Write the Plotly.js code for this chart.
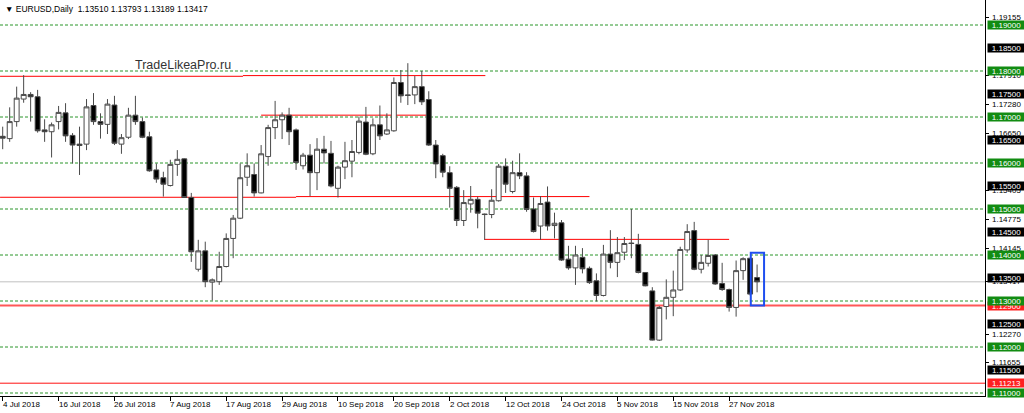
<!DOCTYPE html>
<html>
<head>
<meta charset="utf-8">
<script src="https://cdn.plot.ly/plotly-3.0.1.min.js"></script>
<style>html,body{margin:0;padding:0;background:#fff;}#chart{width:1024px;height:413px;}</style>
</head>
<body>
<div id="chart"></div>
<script>
// ---- Data ----
const opens  = [1.1658,1.1653,1.1690,1.1739,1.1749,1.1744,1.1672,1.1668,1.1690,1.1709,1.1660,1.1641,1.1641,1.1725,1.1690,1.1684,1.1726,1.1641,1.1656,1.1704,1.1690,1.1657,1.1585,1.1568,1.1551,1.1597,1.1609,1.1525,1.1369,1.1409,1.1341,1.1342,1.1375,1.1436,1.1480,1.1569,1.1575,1.1535,1.1614,1.1677,1.1694,1.1704,1.1672,1.1594,1.1617,1.1579,1.1630,1.1621,1.1545,1.1591,1.1604,1.1623,1.1689,1.1620,1.1683,1.1663,1.1670,1.1775,1.1748,1.1748,1.1766,1.1738,1.1639,1.1616,1.1579,1.1547,1.1475,1.1511,1.1521,1.1489,1.1488,1.1518,1.1593,1.1538,1.1579,1.1572,1.1500,1.1463,1.1515,1.1464,1.1470,1.1391,1.1372,1.1395,1.1371,1.1344,1.1312,1.1402,1.1384,1.1406,1.1426,1.1423,1.1362,1.1322,1.1215,1.1288,1.1308,1.1324,1.1411,1.1453,1.1369,1.1382,1.1400,1.1338,1.1325,1.1286,1.1366,1.1393,1.13510];
const highs  = [1.1679,1.1721,1.1766,1.1791,1.1754,1.1759,1.1695,1.1688,1.1724,1.1730,1.1665,1.1679,1.1739,1.1752,1.1708,1.1739,1.1746,1.1663,1.1720,1.1746,1.1699,1.1668,1.1599,1.1581,1.1607,1.1628,1.1610,1.1535,1.1433,1.1429,1.1349,1.1407,1.1447,1.1487,1.1599,1.1621,1.1599,1.1639,1.1683,1.1735,1.1710,1.1720,1.1675,1.1622,1.1641,1.1654,1.1659,1.1648,1.1594,1.1646,1.1650,1.1701,1.1722,1.1697,1.1725,1.1708,1.1786,1.1802,1.1817,1.1789,1.1800,1.1756,1.1650,1.1620,1.1593,1.1550,1.1541,1.1550,1.1527,1.1490,1.1543,1.1598,1.1610,1.1605,1.1621,1.1580,1.1525,1.1528,1.1549,1.1492,1.1476,1.1420,1.1420,1.1415,1.1375,1.1360,1.1422,1.1454,1.1439,1.1439,1.1500,1.1446,1.1363,1.1330,1.1289,1.1347,1.1366,1.1418,1.1467,1.1472,1.1400,1.1433,1.1402,1.1383,1.1327,1.1388,1.1395,1.1394,1.13793];
const lows   = [1.1630,1.1646,1.1679,1.1731,1.1690,1.1666,1.1646,1.1612,1.1673,1.1646,1.1599,1.1574,1.1628,1.1683,1.1653,1.1663,1.1639,1.1620,1.1652,1.1683,1.1654,1.1581,1.1557,1.1527,1.1549,1.1572,1.1524,1.1385,1.1364,1.1330,1.1301,1.1335,1.1373,1.1393,1.1478,1.1550,1.1527,1.1534,1.1594,1.1652,1.1652,1.1639,1.1585,1.1586,1.1528,1.1541,1.1599,1.1547,1.1525,1.1565,1.1569,1.1619,1.1617,1.1617,1.1650,1.1661,1.1668,1.1731,1.1726,1.1728,1.1726,1.1637,1.1567,1.1569,1.1503,1.1463,1.1463,1.1492,1.1458,1.1433,1.1480,1.1516,1.1535,1.1534,1.1565,1.1494,1.1449,1.1433,1.1453,1.1436,1.1387,1.1368,1.1335,1.1360,1.1337,1.1299,1.1310,1.1371,1.1352,1.1389,1.1393,1.1360,1.1332,1.1214,1.1213,1.1260,1.1267,1.1322,1.1405,1.1367,1.1360,1.1375,1.1335,1.1322,1.1277,1.1266,1.1346,1.1312,1.13189];
const closes = [1.1654,1.1690,1.1741,1.1749,1.1744,1.1670,1.1668,1.1683,1.1710,1.1659,1.1639,1.1638,1.1722,1.1690,1.1684,1.1728,1.1643,1.1655,1.1704,1.1690,1.1656,1.1583,1.1565,1.1554,1.1597,1.1608,1.1525,1.1407,1.1409,1.1342,1.1346,1.1375,1.1436,1.1480,1.1568,1.1594,1.1535,1.1620,1.1677,1.1694,1.1704,1.1668,1.1601,1.1617,1.1579,1.1630,1.1622,1.1550,1.1591,1.1605,1.1625,1.1691,1.1619,1.1683,1.1659,1.1672,1.1775,1.1746,1.1747,1.1766,1.1733,1.1639,1.1598,1.1580,1.1545,1.1475,1.1514,1.1521,1.1491,1.1488,1.1519,1.1593,1.1554,1.1579,1.1572,1.1499,1.1451,1.1512,1.1463,1.1469,1.1389,1.1372,1.1400,1.1370,1.1340,1.1312,1.1402,1.1384,1.1405,1.1425,1.1425,1.1362,1.1333,1.1215,1.1286,1.1308,1.1324,1.1412,1.1451,1.1369,1.1384,1.1399,1.1337,1.1325,1.1286,1.1366,1.1392,1.1315,1.13417];

const tickBars   = [0,8,16,24,32,40,48,56,64,72,80,88,96,104];
const tickLabels = ['4 Jul 2018','16 Jul 2018','26 Jul 2018','7 Aug 2018','17 Aug 2018','29 Aug 2018','10 Sep 2018','20 Sep 2018','2 Oct 2018','12 Oct 2018','24 Oct 2018','5 Nov 2018','15 Nov 2018','27 Nov 2018'];

const gridLevels   = [1.19,1.18,1.17,1.16,1.15,1.14,1.13,1.12,1.11];
const greenLabels  = ['1.19000','1.18000','1.17000','1.16000','1.15000','1.14000','1.13000','1.12000','1.11000'];
const blackLevels  = [1.185,1.175,1.165,1.155,1.145,1.135,1.125,1.115];
const blackLabels  = ['1.18500','1.17500','1.16500','1.15500','1.14500','1.13500','1.12500','1.11500'];
const plainLevels  = [1.19155,1.17910,1.17280,1.16650,1.15405,1.14775,1.14145,1.13417,1.12270,1.11655];
const plainLabels  = ['1.19155','1.17910','1.17280','1.16650','1.15405','1.14775','1.14145','1.13417','1.12270','1.11655'];
const redLabelLevels = [1.12900,1.11213];
const redLabelTexts  = ['1.12900','1.11213'];

// red support / resistance segments (level, start bar, end bar)
const redLevels = [1.17885,1.1790,1.1704,1.15255,1.1527,1.1434];
const redStart  = [-0.38,34.4,37.0,-0.38,42.0,68.95];
const redEnd    = [34.4,69.1,61.1,42.0,84.0,104.0];
const fullRedLevels = [1.1290,1.11213];
const fullRedWidths = [2,1];
const fullRedColors = ['#ff5858','#ff1010'];
const bidPrice = 1.13417;
const boxBars = [107.1,109.0];
const boxPrices = [1.1405,1.1290];

const titleText = '\u25BC EURUSD,Daily\u00a0\u00a01.13510 1.13793 1.13189 1.13417';
const watermark = 'TradeLikeaPro.ru';

// ---- Build ----
const xs = opens.map((_, i) => i);
const trace = {
  type: 'candlestick', x: xs, open: opens, high: highs, low: lows, close: closes,
  increasing: {line: {color: '#4a4a4a', width: 1}, fillcolor: '#ffffff'},
  decreasing: {line: {color: '#4a4a4a', width: 1}, fillcolor: '#000000'},
  whiskerwidth: 0, hoverinfo: 'skip'
};

const shapes = [];
gridLevels.forEach(v => shapes.push({type:'line', xref:'paper', x0:0, x1:0.998, yref:'y', y0:v, y1:v, line:{color:'#2a962a', width:1, dash:'3px,2px'}, layer:'below'}));
shapes.push({type:'line', xref:'paper', x0:0, x1:1, yref:'y', y0:bidPrice, y1:bidPrice, line:{color:'#c0c0c0', width:1}, layer:'below'});
redLevels.forEach((v, i) => shapes.push({type:'line', xref:'x', x0:redStart[i], x1:redEnd[i], yref:'y', y0:v, y1:v, line:{color:'#ff0000', width:1}, layer:'below'}));
fullRedLevels.forEach((v, i) => shapes.push({type:'line', xref:'paper', x0:0, x1:1, yref:'y', y0:v, y1:v, line:{color:fullRedColors[i], width:fullRedWidths[i]}, layer:'below'}));
shapes.push({type:'rect', xref:'x', x0:boxBars[0], x1:boxBars[1], yref:'y', y0:boxPrices[0], y1:boxPrices[1], line:{color:'#1f4ff0', width:2}, fillcolor:'rgba(0,0,0,0)'});

const font = 'Liberation Sans, Arial, sans-serif';
const annotations = [];
function axisLabel(level, text, bg, color) {
  annotations.push({xref:'paper', x:1, xshift:2, xanchor:'left', yref:'y', y:level, yanchor:'middle',
    text:text, showarrow:false, font:{family:font, size:8, color:color}, align:'center', width:37, height:8, borderpad:0, bgcolor:bg});
}
plainLevels.forEach((v, i) => annotations.push({xref:'paper', x:1, xshift:6, xanchor:'left', yref:'y', y:v, yanchor:'middle',
  text:plainLabels[i], showarrow:false, font:{family:font, size:8, color:'#000'}, bgcolor:'#ffffff', borderpad:0}));
redLabelLevels.forEach((v, i) => axisLabel(v, redLabelTexts[i], '#ff2020', '#ffffff'));
blackLevels.forEach((v, i) => axisLabel(v, blackLabels[i], '#000000', '#ffffff'));
gridLevels.forEach((v, i) => axisLabel(v, greenLabels[i], '#128c12', '#ffffff'));

tickBars.forEach((b, i) => annotations.push({xref:'x', x:b, xanchor:'left', xshift:-2, yref:'paper', y:0, yanchor:'top', yshift:-2,
  text:tickLabels[i], showarrow:false, font:{family:font, size:8, color:'#000'}}));

annotations.push({xref:'paper', x:133/985, xanchor:'left', yref:'paper', y:(396-65)/396, yanchor:'middle',
  text:watermark, showarrow:false, font:{family:font, size:12.5, color:'#333333'}});

const layout = {
  width:1024, height:413,
  margin:{l:0, r:39, t:0, b:17, pad:0},
  paper_bgcolor:'#ffffff', plot_bgcolor:'#ffffff',
  title:{text:titleText, x:5/1024, xref:'container', xanchor:'left', y:1-9/413, yref:'container', yanchor:'middle',
    font:{family:font, size:8.5, color:'#000'}},
  showlegend:false,
  boxgap:0.3, boxgroupgap:0,
  xaxis:{range:[-0.3865, 140.63], showgrid:false, zeroline:false, showline:true, linecolor:'#000', linewidth:1,
    tickmode:'array', tickvals:tickBars, ticktext:tickBars.map(() => ''), ticks:'outside', ticklen:4, tickcolor:'#000',
    showticklabels:false, rangeslider:{visible:false}, fixedrange:true},
  yaxis:{range:[1.109348, 1.195435], side:'right', showgrid:false, zeroline:false, showline:true, linecolor:'#000', linewidth:1,
    tickmode:'array', tickvals:plainLevels, ticktext:plainLevels.map(() => ''), ticks:'outside', ticklen:3, tickcolor:'#000',
    showticklabels:false, fixedrange:true},
  shapes:shapes, annotations:annotations, hovermode:false
};
Plotly.newPlot('chart', [trace], layout, {staticPlot:true, displayModeBar:false});
</script>
</body>
</html>
